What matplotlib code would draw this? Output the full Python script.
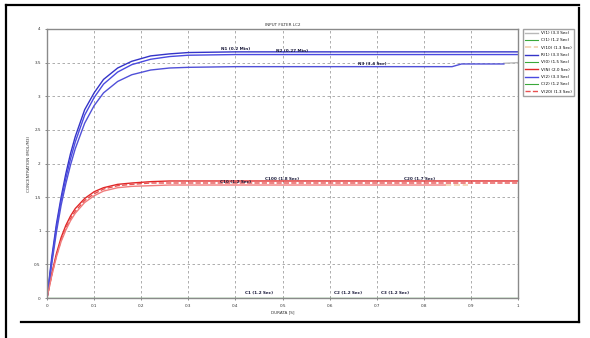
import matplotlib
matplotlib.use("Agg")
import matplotlib.pyplot as plt
from matplotlib.lines import Line2D

# ---- data ----
t = [0, 0.01, 0.02, 0.03, 0.04, 0.05, 0.06, 0.08, 0.10, 0.12, 0.15, 0.18,
     0.22, 0.26, 0.30, 0.40, 0.50, 0.60, 0.70, 0.80, 0.90, 1.0]

blue_top = [0, 0.60, 1.10, 1.50, 1.85, 2.15, 2.40, 2.80, 3.05, 3.25, 3.42, 3.52,
            3.60, 3.63, 3.65, 3.66, 3.66, 3.66, 3.66, 3.66, 3.66, 3.66]
blue_mid = [0, 0.55, 1.05, 1.45, 1.78, 2.07, 2.32, 2.72, 2.98, 3.18, 3.36, 3.47,
            3.55, 3.59, 3.61, 3.62, 3.62, 3.62, 3.62, 3.62, 3.62, 3.62]
blue_low_t = [0, 0.01, 0.02, 0.03, 0.04, 0.05, 0.06, 0.08, 0.10, 0.12, 0.15, 0.18,
              0.22, 0.26, 0.30, 0.40, 0.50, 0.60, 0.70, 0.80, 0.86, 0.88, 0.97]
blue_low = [0, 0.50, 0.98, 1.38, 1.70, 1.98, 2.22, 2.60, 2.86, 3.05, 3.22, 3.32,
            3.39, 3.42, 3.43, 3.44, 3.44, 3.44, 3.44, 3.44, 3.44, 3.48, 3.48]
gray_tail_t = [0.97, 1.0]
gray_tail = [3.49, 3.50]

red_top = [0, 0.36, 0.66, 0.90, 1.08, 1.22, 1.33, 1.48, 1.58, 1.64, 1.69, 1.71,
           1.73, 1.74, 1.74, 1.74, 1.74, 1.74, 1.74, 1.74, 1.74, 1.74]
red_mid = [0, 0.34, 0.63, 0.86, 1.04, 1.18, 1.29, 1.45, 1.55, 1.62, 1.67, 1.69,
           1.71, 1.71, 1.71, 1.71, 1.71, 1.71, 1.71, 1.71, 1.71, 1.71]
red_low_t = [0, 0.01, 0.02, 0.03, 0.04, 0.05, 0.06, 0.08, 0.10, 0.12, 0.15, 0.18,
             0.22, 0.26, 0.30, 0.40, 0.50, 0.60, 0.70, 0.80, 0.845]
red_low = [0, 0.33, 0.61, 0.84, 1.01, 1.15, 1.26, 1.42, 1.52, 1.59, 1.64, 1.66,
           1.67, 1.68, 1.68, 1.68, 1.68, 1.68, 1.68, 1.68, 1.68]
beige_t = [0.845, 0.894]
beige = [1.68, 1.68]

zero_t = [0, 1.0]
zero = [0, 0]

legend_labels = ["V(1) (3.3 Sec)", "C(1) (1.2 Sec)", "V(10) (1.3 Sec)",
                 "R(1) (3.3 Sec)", "V(0) (1.5 Sec)", "V(N) (2.0 Sec)",
                 "V(2) (3.3 Sec)", "C(2) (1.2 Sec)", "V(20) (1.3 Sec)"]

inline_labels = ["N1 (0.2 Min)", "N2 (0.27 Min)", "N3 (3.4 Sec)",
                 "C10 (1.2 Sec)", "C100 (1.8 Sec)", "C20 (1.7 Sec)",
                 "C1 (1.2 Sec)", "C2 (1.2 Sec)", "C3 (1.2 Sec)"]
inline_x = [0.40, 0.52, 0.69, 0.40, 0.50, 0.79, 0.45, 0.64, 0.74]
inline_y = [3.68, 3.64, 3.46, 1.70, 1.745, 1.75, 0.04, 0.04, 0.04]

x_ticks = [0, 0.1, 0.2, 0.3, 0.4, 0.5, 0.6, 0.7, 0.8, 0.9, 1]
x_ticklabels = ["0", "0.1", "0.2", "0.3", "0.4", "0.5", "0.6", "0.7", "0.8", "0.9", "1"]
y_ticks = [0, 0.5, 1, 1.5, 2, 2.5, 3, 3.5, 4]
y_ticklabels = ["0", "0.5", "1", "1.5", "2", "2.5", "3", "3.5", "4"]

title = "INPUT FILTER LC2"
xlabel = "DURATA [S]"
ylabel = "CONCENTRATION (MOL/M3)"

# ---- figure ----
fig = plt.figure(figsize=(5.9, 3.38), dpi=100)
W, H = 590, 338
ax = fig.add_axes([47 / W, 1 - 298 / H, (518 - 47) / W, (298 - 29) / H])

blue = "#3434c8"
red = "#e02828"
green = "#3aa83a"

h_gray, = ax.plot(gray_tail_t, gray_tail, color="#b8b8b8", lw=1.0)
h_c1, = ax.plot(zero_t, zero, color=green, lw=0.8)
h_v10, = ax.plot(beige_t, beige, color="#f2cfae", lw=1.2, ls="--")
h_r1, = ax.plot(t, blue_top, color=blue, lw=1.0)
h_v0, = ax.plot(zero_t, zero, color=green, lw=0.8)
h_vn, = ax.plot(t, red_top, color=red, lw=1.0)
h_v2, = ax.plot(t, blue_mid, color="#4a4ae0", lw=1.0)
h_c2, = ax.plot(zero_t, zero, color=green, lw=0.8)
h_v20, = ax.plot(t, red_mid, color="#e85050", lw=1.0, ls="--")
ax.plot(blue_low_t, blue_low, color="#5050d8", lw=1.0)
ax.plot(red_low_t, red_low, color="#f07c7c", lw=1.0)

for s, xx, yy in zip(inline_labels, inline_x, inline_y):
    ax.text(xx, yy, s, fontsize=3, ha="center", va="bottom", color="#1a1a3a",
            fontweight="bold")

ax.set_xlim(0, 1)
ax.set_ylim(0, 4)
ax.set_xticks(x_ticks)
ax.set_xticklabels(x_ticklabels)
ax.set_yticks(y_ticks)
ax.set_yticklabels(y_ticklabels)
ax.tick_params(labelsize=3, length=1.5, width=0.4, pad=3, colors="#333333")
ax.grid(True, color="#a0a0a0", ls=(0, (3, 3)), lw=0.6)
for sp in ax.spines.values():
    sp.set_color("#8a8a8a")
    sp.set_linewidth(1.0)

ax.set_title(title, fontsize=3, pad=2, color="#333333")
ax.set_xlabel(xlabel, fontsize=3, color="#333333")
ax.set_ylabel(ylabel, fontsize=3, color="#333333")
ax.xaxis.set_label_coords(0.5, -0.045)
ax.yaxis.set_label_coords(-0.034, 0.5)

handles = [h_gray, h_c1, h_v10, h_r1, h_v0, h_vn, h_v2, h_c2, h_v20]
leg = fig.legend(handles, legend_labels, loc="upper left",
                 bbox_to_anchor=(523 / W, 1 - 29 / H), fontsize=3,
                 frameon=True, fancybox=False, handlelength=3.2,
                 borderpad=0.5, labelspacing=0.8, handletextpad=0.6,
                 borderaxespad=0)
leg.get_frame().set_edgecolor("#8a8a8a")
leg.get_frame().set_linewidth(1.0)

# outer frame
fig.add_artist(Line2D([6 / W, 579 / W], [1 - 5 / H, 1 - 5 / H], color="black", lw=1.6))
fig.add_artist(Line2D([6 / W, 6 / W], [1 - 5 / H, 0], color="black", lw=1.6))
fig.add_artist(Line2D([579 / W, 579 / W], [1 - 8 / H, 1 - 322 / H], color="black", lw=1.6))
fig.add_artist(Line2D([21 / W, 579 / W], [1 - 322 / H, 1 - 322 / H], color="black", lw=1.6))

fig.savefig("out.png", dpi=100, facecolor="white")
